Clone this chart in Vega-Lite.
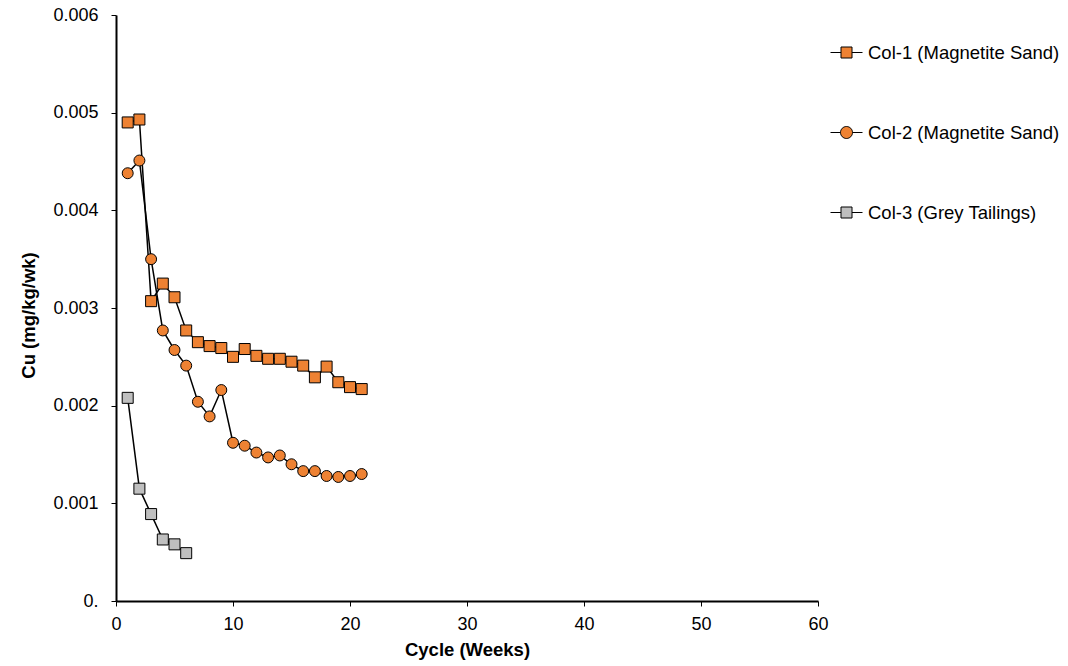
{
  "$schema": "https://vega.github.io/schema/vega-lite/v6.json",
  "autosize": "none",
  "width": 702,
  "height": 586,
  "padding": {"left": 116, "top": 15, "right": 250, "bottom": 65},
  "background": "white",
  "config": {
    "view": {"stroke": null},
    "font": "Liberation Sans",
    "axis": {"labelFont": "Liberation Sans", "titleFont": "Liberation Sans", "labelFontSize": 18, "titleFontSize": 18.5, "labelColor": "black", "titleColor": "black", "domainColor": "black", "tickColor": "black", "domainWidth": 2, "tickWidth": 1, "tickSize": 5, "grid": false, "labelFlush": false}
  },
  "data": {"values": [
    {"series": "Col-1 (Magnetite Sand)", "cycle": 1, "cu": 0.00490},
    {"series": "Col-1 (Magnetite Sand)", "cycle": 2, "cu": 0.00493},
    {"series": "Col-1 (Magnetite Sand)", "cycle": 3, "cu": 0.00307},
    {"series": "Col-1 (Magnetite Sand)", "cycle": 4, "cu": 0.00325},
    {"series": "Col-1 (Magnetite Sand)", "cycle": 5, "cu": 0.00311},
    {"series": "Col-1 (Magnetite Sand)", "cycle": 6, "cu": 0.00277},
    {"series": "Col-1 (Magnetite Sand)", "cycle": 7, "cu": 0.00265},
    {"series": "Col-1 (Magnetite Sand)", "cycle": 8, "cu": 0.00261},
    {"series": "Col-1 (Magnetite Sand)", "cycle": 9, "cu": 0.00259},
    {"series": "Col-1 (Magnetite Sand)", "cycle": 10, "cu": 0.00250},
    {"series": "Col-1 (Magnetite Sand)", "cycle": 11, "cu": 0.00258},
    {"series": "Col-1 (Magnetite Sand)", "cycle": 12, "cu": 0.00251},
    {"series": "Col-1 (Magnetite Sand)", "cycle": 13, "cu": 0.00248},
    {"series": "Col-1 (Magnetite Sand)", "cycle": 14, "cu": 0.00248},
    {"series": "Col-1 (Magnetite Sand)", "cycle": 15, "cu": 0.00245},
    {"series": "Col-1 (Magnetite Sand)", "cycle": 16, "cu": 0.00241},
    {"series": "Col-1 (Magnetite Sand)", "cycle": 17, "cu": 0.00229},
    {"series": "Col-1 (Magnetite Sand)", "cycle": 18, "cu": 0.00240},
    {"series": "Col-1 (Magnetite Sand)", "cycle": 19, "cu": 0.00224},
    {"series": "Col-1 (Magnetite Sand)", "cycle": 20, "cu": 0.00219},
    {"series": "Col-1 (Magnetite Sand)", "cycle": 21, "cu": 0.00217},
    {"series": "Col-2 (Magnetite Sand)", "cycle": 1, "cu": 0.00438},
    {"series": "Col-2 (Magnetite Sand)", "cycle": 2, "cu": 0.00451},
    {"series": "Col-2 (Magnetite Sand)", "cycle": 3, "cu": 0.00350},
    {"series": "Col-2 (Magnetite Sand)", "cycle": 4, "cu": 0.00277},
    {"series": "Col-2 (Magnetite Sand)", "cycle": 5, "cu": 0.00257},
    {"series": "Col-2 (Magnetite Sand)", "cycle": 6, "cu": 0.00241},
    {"series": "Col-2 (Magnetite Sand)", "cycle": 7, "cu": 0.00204},
    {"series": "Col-2 (Magnetite Sand)", "cycle": 8, "cu": 0.00189},
    {"series": "Col-2 (Magnetite Sand)", "cycle": 9, "cu": 0.00216},
    {"series": "Col-2 (Magnetite Sand)", "cycle": 10, "cu": 0.00162},
    {"series": "Col-2 (Magnetite Sand)", "cycle": 11, "cu": 0.00159},
    {"series": "Col-2 (Magnetite Sand)", "cycle": 12, "cu": 0.00152},
    {"series": "Col-2 (Magnetite Sand)", "cycle": 13, "cu": 0.00147},
    {"series": "Col-2 (Magnetite Sand)", "cycle": 14, "cu": 0.00149},
    {"series": "Col-2 (Magnetite Sand)", "cycle": 15, "cu": 0.00140},
    {"series": "Col-2 (Magnetite Sand)", "cycle": 16, "cu": 0.00133},
    {"series": "Col-2 (Magnetite Sand)", "cycle": 17, "cu": 0.00133},
    {"series": "Col-2 (Magnetite Sand)", "cycle": 18, "cu": 0.00128},
    {"series": "Col-2 (Magnetite Sand)", "cycle": 19, "cu": 0.00127},
    {"series": "Col-2 (Magnetite Sand)", "cycle": 20, "cu": 0.00128},
    {"series": "Col-2 (Magnetite Sand)", "cycle": 21, "cu": 0.00130},
    {"series": "Col-3 (Grey Tailings)", "cycle": 1, "cu": 0.00208},
    {"series": "Col-3 (Grey Tailings)", "cycle": 2, "cu": 0.00115},
    {"series": "Col-3 (Grey Tailings)", "cycle": 3, "cu": 0.00089},
    {"series": "Col-3 (Grey Tailings)", "cycle": 4, "cu": 0.00063},
    {"series": "Col-3 (Grey Tailings)", "cycle": 5, "cu": 0.00058},
    {"series": "Col-3 (Grey Tailings)", "cycle": 6, "cu": 0.00049}
  ]},
  "encoding": {
    "x": {"field": "cycle", "type": "quantitative", "scale": {"domain": [0, 60], "nice": false},
      "axis": {"title": "Cycle (Weeks)", "values": [0, 10, 20, 30, 40, 50, 60], "labelPadding": 9, "titlePadding": 7, "titleFontWeight": "bold"}},
    "y": {"field": "cu", "type": "quantitative", "scale": {"domain": [0, 0.006], "nice": false},
      "axis": {"title": "Cu (mg/kg/wk)", "values": [0, 0.001, 0.002, 0.003, 0.004, 0.005, 0.006],
        "labelExpr": "datum.value === 0 ? '0.' : format(datum.value, '.3f')", "labelPadding": 13, "titlePadding": 14, "titleY": 300, "titleFontWeight": "bold"}},
    "fill": {"field": "series", "type": "nominal",
      "scale": {"domain": ["Col-1 (Magnetite Sand)", "Col-2 (Magnetite Sand)", "Col-3 (Grey Tailings)"], "range": ["#EE8233", "#EE8233", "#BFBFBF"]},
      "legend": {"title": null, "orient": "none", "legendX": 720, "legendY": 27, "padding": 0,
        "symbolSize": 400, "symbolStrokeColor": "black", "symbolStrokeWidth": 1, "symbolOpacity": 1,
        "labelFont": "Liberation Sans", "labelFontSize": 18.5, "labelColor": "black", "labelOffset": 11, "rowPadding": 60, "labelLimit": 300,
        "encode": {"symbols": {"update": {"shape": {"signal": "datum.value === 'Col-2 (Magnetite Sand)' ? 'M-1.6,0H-0.6M0.6,0H1.6M0.6,0A0.6,0.6 0 1 1 -0.6,0A0.6,0.6 0 1 1 0.6,0Z' : 'M-1.6,0H-0.55M0.55,0H1.6M-0.55,-0.55H0.55V0.55H-0.55Z'"}}}}}}
  },
  "layer": [
    {"mark": {"type": "line", "color": "black", "strokeWidth": 1.5, "fill": null},
      "encoding": {"detail": {"field": "series"}, "fill": null}},
    {"transform": [{"filter": "datum.series !== 'Col-2 (Magnetite Sand)'"}],
      "mark": {"type": "point", "shape": "square", "size": 121, "filled": true, "stroke": "black", "strokeWidth": 1, "opacity": 1}},
    {"transform": [{"filter": "datum.series === 'Col-2 (Magnetite Sand)'"}],
      "mark": {"type": "point", "shape": "circle", "size": 120, "filled": true, "stroke": "black", "strokeWidth": 1, "opacity": 1}}
  ]
}
